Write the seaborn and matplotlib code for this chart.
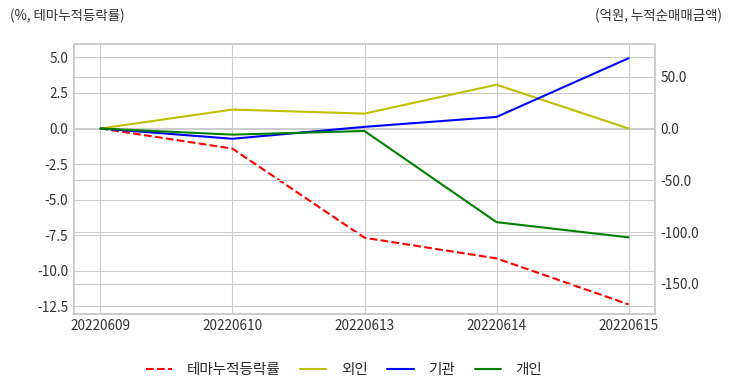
import matplotlib
matplotlib.use("Agg")
import matplotlib.pyplot as plt
import seaborn as sns
import pandas as pd
from matplotlib.ticker import FormatStrFormatter, MultipleLocator
from matplotlib.lines import Line2D

dates = ["20220609", "20220610", "20220613", "20220614", "20220615"]
theme_rate = [0.0, -1.42, -7.68, -9.13, -12.36]
foreign = [0.0, 18.3, 14.4, 42.3, 0.0]
institution = [0.0, -9.9, 1.6, 11.2, 67.9]
individual = [0.0, -5.9, -2.4, -90.4, -105.1]

left_label = "(%, 테마누적등락률)"
right_label = "(억원, 누적순매매금액)"
names = ["테마누적등락률", "외인", "기관", "개인"]

sns.set_style("whitegrid")
plt.rcParams["font.family"] = ["Noto Sans CJK KR", "DejaVu Sans"]
plt.rcParams["axes.unicode_minus"] = False

fig = plt.figure(figsize=(7.32, 3.92), dpi=100)
ax = fig.add_axes([74/732, 1-313.5/392, (655-74)/732, (313.5-44)/392])
ax2 = ax.twinx()

df_left = pd.DataFrame({"date": dates, "value": theme_rate})
sns.lineplot(data=df_left, x="date", y="value", ax=ax, color="red",
             linestyle="--", linewidth=1.5, legend=False)

df_right = pd.DataFrame({
    "date": dates * 3,
    "value": foreign + institution + individual,
    "series": [names[1]] * 5 + [names[2]] * 5 + [names[3]] * 5,
})
sns.lineplot(data=df_right, x="date", y="value", hue="series", ax=ax2,
             palette={names[1]: "y", names[2]: "b", names[3]: "g"},
             linewidth=1.5, legend=False)

ax.set_xlim(-0.2, 4.2)
ax.set_ylim(-13.0, 5.93)
ax2.set_ylim(-178.6, 81.6)
ax.yaxis.set_major_locator(MultipleLocator(2.5))
ax2.yaxis.set_major_locator(MultipleLocator(50))
ax.yaxis.set_major_formatter(FormatStrFormatter("%.1f"))
ax2.yaxis.set_major_formatter(FormatStrFormatter("%.1f"))
ax.set_xlabel("")
ax.set_ylabel("")
ax2.set_ylabel("")
for a in (ax, ax2):
    a.tick_params(axis="both", labelsize=9.8, colors="#333333", length=0, pad=4)
    for s in a.spines.values():
        s.set_color("#cccccc")
        s.set_linewidth(1.2)
ax2.grid(True, color="#cccccc")
ax.grid(True, color="#cccccc")

fig.text(10/732, 1-16/392, left_label, fontsize=9.7, color="#333333", va="center", ha="left")
fig.text(722/732, 1-16/392, right_label, fontsize=9.7, color="#333333", va="center", ha="right")

handles = [Line2D([], [], color="red", linestyle="--", linewidth=1.5),
           Line2D([], [], color="y", linewidth=1.5),
           Line2D([], [], color="b", linewidth=1.5),
           Line2D([], [], color="g", linewidth=1.5)]
fig.legend(handles, names, loc="center", bbox_to_anchor=(344/732, 1-370/392),
           ncol=4, frameon=False, fontsize=10.5, handlelength=1.8,
           handletextpad=1.0, columnspacing=1.35)

fig.savefig("out.png", dpi=100)
